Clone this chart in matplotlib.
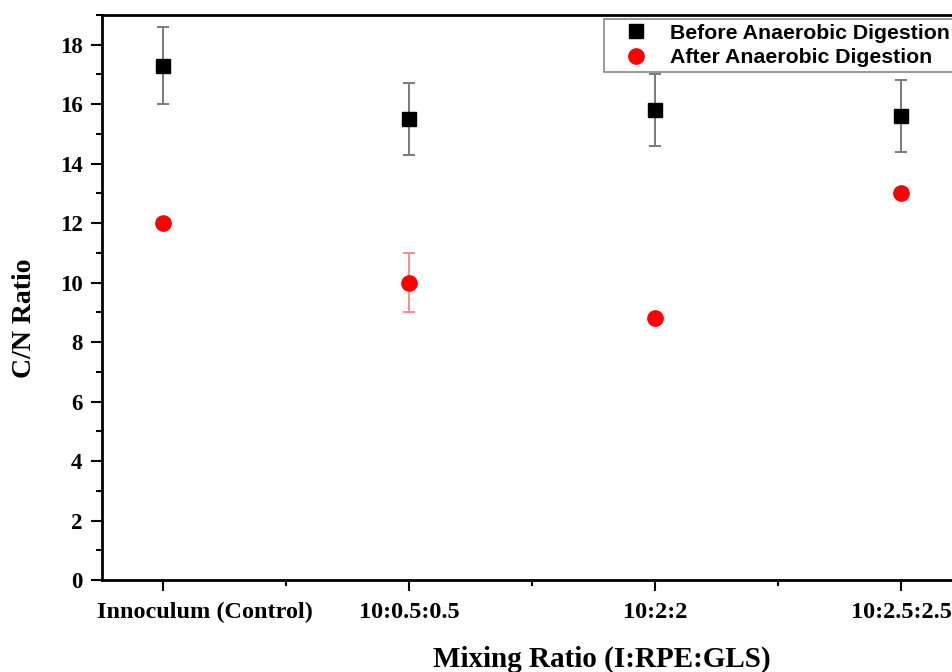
import matplotlib
matplotlib.use("Agg")
import matplotlib.pyplot as plt
from matplotlib.lines import Line2D
from matplotlib.ticker import MultipleLocator

# data
groups = ["Innoculum (Control)", "10:0.5:0.5", "10:2:2", "10:2.5:2.5"]
before = [17.3, 15.5, 15.8, 15.6]
before_err = [1.3, 1.2, 1.2, 1.2]
after = [12.0, 10.0, 8.8, 13.0]
after_err = [0.0, 1.0, 0.1, 0.0]

fig = plt.figure(figsize=(9.53, 6.72), dpi=100)
ax = fig.add_axes([102/953, 1-580/672, 861/953, 565/672])

xs = list(range(1, len(groups) + 1))

# error bars only where there is an error
for x, y, e in zip(xs, before, before_err):
    if e > 0:
        ax.errorbar(x, y, yerr=e, fmt="none", ecolor="#7a7a7a", elinewidth=1.4,
                    capsize=4.5, capthick=1.4, zorder=2)
for x, y, e in zip(xs, after, after_err):
    if e > 0:
        ax.errorbar(x, y, yerr=e, fmt="none", ecolor="#ff8a8a", elinewidth=1.4,
                    capsize=4.5, capthick=1.4, zorder=2)

ax.plot(xs, before, "s", color="black", ms=10, zorder=3)
ax.plot(xs, after, "o", color="red", ms=11, mec="red", zorder=3)

ax.set_xlim(0.75, 4.25)
ax.set_ylim(0, 19)
ax.set_xticks(xs)
# first label is drawn separately, it sits right of its tick in the reference
ax.set_xticklabels([""] + groups[1:])
ax.xaxis.set_minor_locator(MultipleLocator(0.5))
ax.yaxis.set_major_locator(MultipleLocator(2))
ax.yaxis.set_minor_locator(MultipleLocator(1))

serif = {"family": "Liberation Serif", "weight": "bold"}
for lab in ax.get_xticklabels():
    lab.set_fontproperties(matplotlib.font_manager.FontProperties(size=17.5, **serif))
for lab in ax.get_yticklabels():
    lab.set_fontproperties(matplotlib.font_manager.FontProperties(size=16.5, **serif))

ax.annotate(groups[0], xy=(xs[0], 0), xycoords=("data", "axes fraction"),
            xytext=(30, -16), textcoords="offset points", ha="center", va="top",
            fontsize=17.5, **serif)

ax.tick_params(which="major", direction="out", length=8, width=1.5)
ax.tick_params(axis="x", which="major", pad=8)
ax.tick_params(axis="y", which="major", pad=6)
ax.tick_params(which="minor", direction="out", length=4.5, width=1.5)
for s in ax.spines.values():
    s.set_linewidth(2)

fig.text(25/953, 1-318/672, "C/N Ratio", rotation=90, ha="center", va="center",
         fontsize=20, **serif)
fig.text(602/953, 1-659/672, "Mixing Ratio (I:RPE:GLS)", ha="center", va="center",
         fontsize=21, **serif)

handles = [Line2D([], [], ls="none", marker="s", color="black", ms=10),
           Line2D([], [], ls="none", marker="o", color="red", ms=11)]
leg = ax.legend(handles, ["Before Anaerobic Digestion", "After Anaerobic Digestion"],
                loc="upper left", bbox_to_anchor=(604/953, 1-19/672),
                bbox_transform=fig.transFigure, borderaxespad=0,
                fancybox=False, edgecolor="#888888",
                prop={"family": "Liberation Sans", "weight": "bold", "size": 15.3},
                borderpad=0.22, labelspacing=0.26, handletextpad=0.3, handlelength=2.6,
                framealpha=1)
leg.get_frame().set_linewidth(1.2)

fig.savefig("out.png", dpi=100)
